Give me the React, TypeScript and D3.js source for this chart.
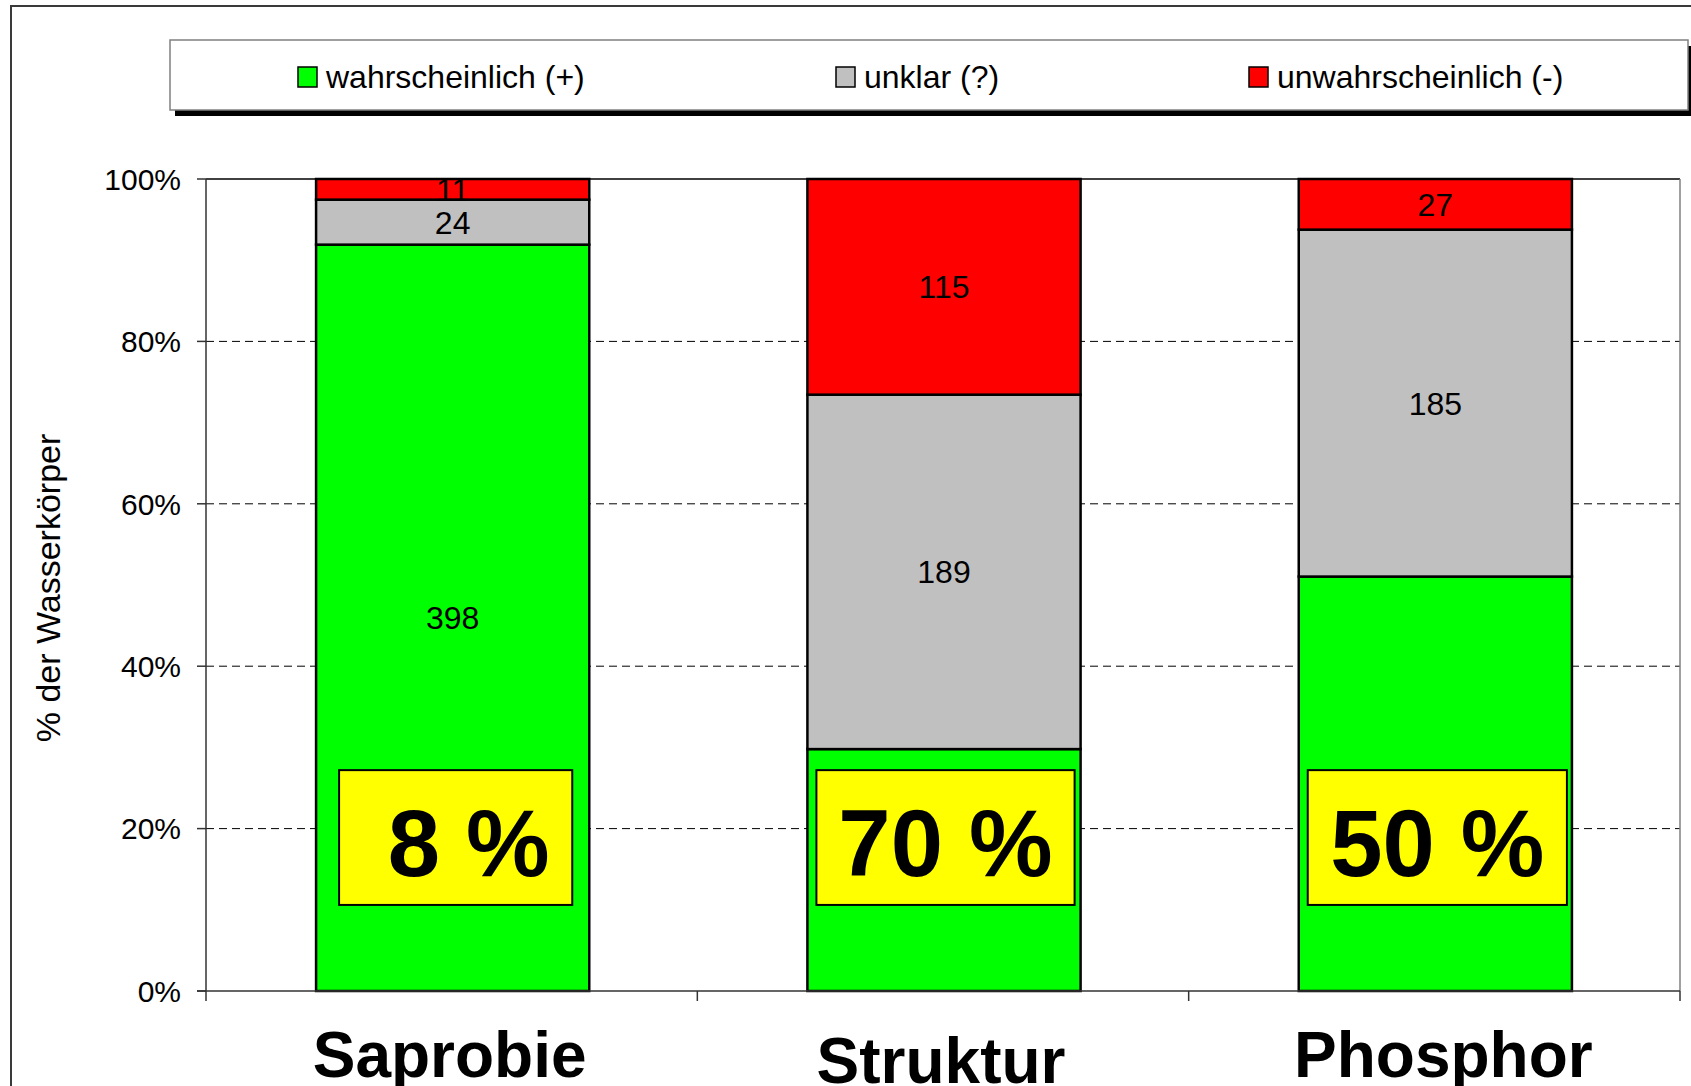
import React from "react";
import * as d3 from "d3";

// chart data
const categories = ["Saprobie", "Struktur", "Phosphor"];
const wahrscheinlich = [398, 129, 221];
const unklar = [24, 189, 185];
const unwahrscheinlich = [11, 115, 27];
const seriesNames = ["wahrscheinlich (+)", "unklar (?)", "unwahrscheinlich (-)"];
const seriesColors = ["#00ff00", "#c0c0c0", "#ff0000"];
const highlightLabels = [" 8 %", "70 %", "50 %"];
const yTicks = [0, 0.2, 0.4, 0.6, 0.8, 1];

const W = 1691;
const H = 1086;
const plot = { left: 206, right: 1680, top: 179, bottom: 991 };
const FONT = "'Liberation Sans', Arial, Helvetica, sans-serif";

// layout of the hand placed yellow boxes
const boxTop = 0.272;
const boxBottom = 0.106;
const boxInsets = [
  [23, 17],
  [9, 6],
  [9, 5],
];
const catLabelDx = [-2, -2, 9];
const catLabelDy = [0, 6, 0];
const legendX = [298, 836, 1249];

export default function App() {
  const rows = categories.map((c, i) => ({
    cat: c,
    w: wahrscheinlich[i],
    u: unklar[i],
    n: unwahrscheinlich[i],
  }));
  const keys = ["w", "u", "n"];
  const stacked = d3.stack<any>().keys(keys).offset(d3.stackOffsetExpand)(rows);

  const x = d3
    .scaleBand()
    .domain(categories)
    .range([plot.left, plot.right])
    .paddingInner(0.444)
    .paddingOuter(0.222);
  const step = x.step();
  const y = d3.scaleLinear().domain([0, 1]).range([plot.bottom, plot.top]);

  const boundaries = d3.range(categories.length + 1).map((i) => plot.left + i * step);

  // labels that sit under a yellow box are hidden in the original
  const hidden = (mid: number) => mid > boxBottom && mid < boxTop;

  return (
    <svg
      width={W}
      height={H}
      style={{ position: "absolute", left: 0, top: 0, background: "#fff" }}
      fontFamily={FONT}
    >
      {/* outer frame */}
      <rect x={11} y={6} width={1720} height={1120} fill="none" stroke="#3a3a3a" strokeWidth={2} />

      {/* legend */}
      <rect x={175} y={46} width={1518} height={70} fill="#000" />
      <rect x={170} y={40} width={1518} height={70} fill="#fff" stroke="#808080" strokeWidth={1.5} />
      {seriesNames.map((s, i) => (
        <g key={s}>
          <rect x={legendX[i]} y={67} width={19} height={20} fill={seriesColors[i]} stroke="#000" strokeWidth={1.5} />
          <text x={legendX[i] + 28} y={88} fontSize={32} fill="#000">
            {s}
          </text>
        </g>
      ))}

      {/* gridlines */}
      {yTicks
        .filter((t) => t > 0 && t < 1)
        .map((t) => (
          <line
            key={t}
            x1={plot.left}
            x2={plot.right}
            y1={y(t)}
            y2={y(t)}
            stroke="#000"
            strokeWidth={1}
            strokeDasharray="8,5"
          />
        ))}

      {/* plot area border */}
      <line x1={plot.left} x2={plot.right} y1={plot.top} y2={plot.top} stroke="#000" strokeWidth={1.5} />
      <line x1={plot.right} x2={plot.right} y1={plot.top} y2={plot.bottom} stroke="#808080" strokeWidth={1.5} />

      {/* bars */}
      {stacked.map((layer, li) =>
        layer.map((d, i) => (
          <rect
            key={`${li}-${i}`}
            x={(x(categories[i]) as number) + 1}
            y={y(d[1])}
            width={x.bandwidth()}
            height={y(d[0]) - y(d[1])}
            fill={seriesColors[li]}
            stroke="#000"
            strokeWidth={2.5}
          />
        ))
      )}

      {/* data labels */}
      {stacked.map((layer, li) =>
        layer
          .map((d, i) => ({ d, i }))
          .filter(({ d }) => !hidden((d[0] + d[1]) / 2))
          .map(({ d, i }) => (
            <text
              key={`l${li}-${i}`}
              x={(x(categories[i]) as number) + 1 + x.bandwidth() / 2}
              y={y((d[0] + d[1]) / 2)}
              dy="0.36em"
              textAnchor="middle"
              fontSize={32}
              fill="#000"
            >
              {(d.data as any)[keys[li]]}
            </text>
          ))
      )}

      {/* y axis */}
      <line x1={plot.left} x2={plot.left} y1={plot.top} y2={plot.bottom} stroke="#333" strokeWidth={1.5} />
      {yTicks.map((t) => (
        <g key={t}>
          <line x1={plot.left - 9} x2={plot.left} y1={y(t)} y2={y(t)} stroke="#333" strokeWidth={1.5} />
          <text x={181} y={y(t)} dy="0.36em" textAnchor="end" fontSize={30} fill="#000">
            {d3.format(".0%")(t)}
          </text>
        </g>
      ))}
      <text
        transform={`translate(60, 588) rotate(-90)`}
        textAnchor="middle"
        fontSize={34}
        fill="#000"
      >
        % der Wasserkörper
      </text>

      {/* x axis */}
      <line x1={plot.left - 9} x2={plot.right} y1={plot.bottom} y2={plot.bottom} stroke="#333" strokeWidth={1.5} />
      {boundaries.map((b) => (
        <line key={b} x1={b} x2={b} y1={plot.bottom} y2={plot.bottom + 10} stroke="#333" strokeWidth={1.5} />
      ))}
      {categories.map((c, i) => (
        <text
          key={c}
          x={(x(c) as number) + x.bandwidth() / 2 + catLabelDx[i]}
          y={1077 + catLabelDy[i]}
          textAnchor="middle"
          fontSize={64}
          fontWeight="bold"
          fill="#000"
        >
          {c}
        </text>
      ))}

      {/* yellow highlight boxes */}
      {categories.map((c, i) => {
        const bx = (x(c) as number) + 1 + boxInsets[i][0];
        const bw = x.bandwidth() - boxInsets[i][0] - boxInsets[i][1];
        const by = y(boxTop);
        const bh = y(boxBottom) - y(boxTop);
        return (
          <g key={`box-${c}`}>
            <rect x={bx} y={by} width={bw} height={bh} fill="#ffff00" stroke="#000" strokeWidth={2} />
            <text
              x={bx + bw / 2}
              y={by + bh / 2 + 38}
              textAnchor="middle"
              fontSize={94}
              fontWeight="bold"
              fill="#000"
              style={{ whiteSpace: "pre" }}
            >
              {highlightLabels[i]}
            </text>
          </g>
        );
      })}
    </svg>
  );
}
